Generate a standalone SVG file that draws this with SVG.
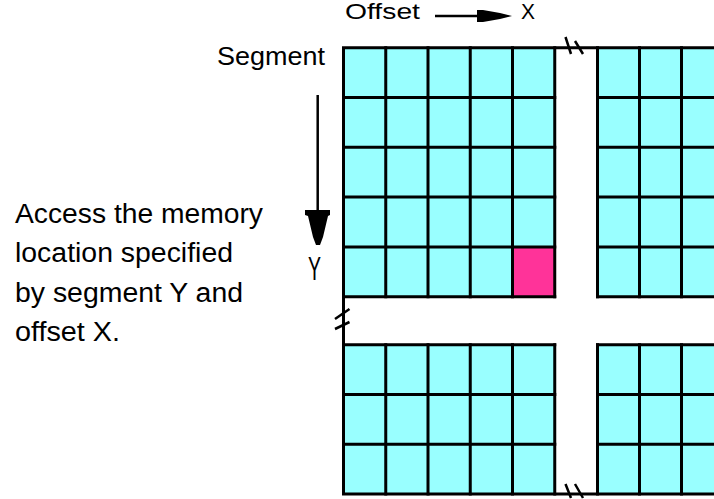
<svg xmlns="http://www.w3.org/2000/svg" width="714" height="499" viewBox="0 0 714 499">
<style>
.t{font-family:"Liberation Sans",Arial,sans-serif;fill:#000;}
.cell{fill:#99FFFF;}
.g{stroke:#000;stroke-width:3;stroke-linecap:square;fill:none;}
.brk{stroke:#000;stroke-width:2.5;fill:none;}
</style>
<rect width="714" height="499" fill="#fff"/>
<g id="blocks">
<rect class="cell" x="343.5" y="47.7" width="211.25" height="249"/>
<rect class="cell" x="597.5" y="47.7" width="120" height="249"/>
<rect class="cell" x="343.5" y="344.7" width="211.25" height="149.4"/>
<rect class="cell" x="597.5" y="344.7" width="120" height="149.4"/>
<rect id="target" x="512.5" y="246.9" width="42.25" height="49.8" fill="#FF3399"/>
</g>
<g id="gridlines" class="g">
<path d="M343.5 47.7H714M343.5 494.1H714M343.5 47.7V494.1"/>
<path d="M343.5 97.5H554.75M343.5 147.3H554.75M343.5 197.1H554.75M343.5 246.9H554.75M343.5 296.7H554.75"/>
<path d="M385.75 47.7V296.7M428 47.7V296.7M470.25 47.7V296.7M512.5 47.7V296.7M554.75 47.7V296.7"/>
<path d="M597.5 97.5H714M597.5 147.3H714M597.5 197.1H714M597.5 246.9H714M597.5 296.7H714"/>
<path d="M597.5 47.7V296.7M639.5 47.7V296.7M681.5 47.7V296.7"/>
<path d="M343.5 344.7H554.75M343.5 394.5H554.75M343.5 444.3H554.75"/>
<path d="M385.75 344.7V494.1M428 344.7V494.1M470.25 344.7V494.1M512.5 344.7V494.1M554.75 344.7V494.1"/>
<path d="M597.5 344.7H714M597.5 394.5H714M597.5 444.3H714"/>
<path d="M597.5 344.7V494.1M639.5 344.7V494.1M681.5 344.7V494.1"/>
</g>
<g id="breaks" class="brk">
<path d="M565.5 37L571 54M575 41L583 54"/>
<path d="M565.5 484L571 498M575 484L583 498"/>
<path d="M349.5 309L335 319M349.5 322L335 329"/>
</g>
<g id="connectors">
<line x1="435" y1="16" x2="480" y2="16" stroke="#000" stroke-width="2.5"/>
<polygon points="477,10 483,10 500,13 512,16 500,19 483,22 477,22" fill="#000"/>
<line x1="317.7" y1="95" x2="317.7" y2="212" stroke="#000" stroke-width="2.5"/>
<polygon points="305,210 330,210 330,215 328,216 323,237 320,245 316,245 313,237 308,216 305,215" fill="#000"/>
</g>
<g id="labels">
<text class="t" x="345" y="19" font-size="22" textLength="75" lengthAdjust="spacingAndGlyphs">Offset</text>
<text class="t" x="521" y="19" font-size="22" textLength="14" lengthAdjust="spacingAndGlyphs">X</text>
<text class="t" x="217" y="65" font-size="25" textLength="108" lengthAdjust="spacingAndGlyphs">Segment</text>
<text class="t" x="308" y="280" font-size="34" textLength="13" lengthAdjust="spacingAndGlyphs">Y</text>
</g>
<g id="description">
<text class="t" x="15" y="223" font-size="27" textLength="248" lengthAdjust="spacingAndGlyphs">Access the memory</text>
<text class="t" x="15" y="262" font-size="27" textLength="218" lengthAdjust="spacingAndGlyphs">location specified</text>
<text class="t" x="15" y="302" font-size="27" textLength="228" lengthAdjust="spacingAndGlyphs">by segment Y and</text>
<text class="t" x="15" y="341" font-size="27" textLength="105" lengthAdjust="spacingAndGlyphs">offset X.</text>
</g>
</svg>
